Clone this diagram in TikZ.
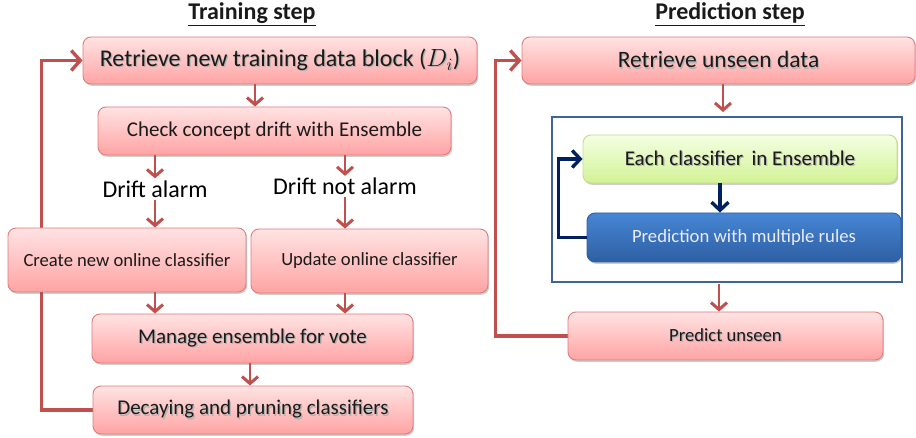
\documentclass[tikz,border=0pt]{standalone}
\usepackage{fontspec}
\setmainfont{Carlito}
\usetikzlibrary{arrows.meta,shadows,backgrounds,calc}

\definecolor{flowred}{HTML}{C0504D}
\definecolor{pinktop}{HTML}{FFE3E3}
\definecolor{pinkbot}{HTML}{FFA3A3}
\definecolor{pinkline}{HTML}{E07C7C}
\definecolor{greentop}{HTML}{F4FFE2}
\definecolor{greenbot}{HTML}{D2F296}
\definecolor{greenline}{HTML}{C2DE8C}
\definecolor{bluetop}{HTML}{4686D4}
\definecolor{bluebot}{HTML}{2E5FA3}
\definecolor{frameblue}{HTML}{3F6597}
\definecolor{loopnavy}{HTML}{002060}
\definecolor{ink}{HTML}{1A1A1A}

\newcommand{\fs}[1]{\fontsize{#1}{#1}\selectfont}
% text with a soft grey shadow behind it
\newcommand{\shadowed}[1]{\makebox[0pt][l]{\hspace{1.2pt}\raisebox{-1.2pt}{\color{black!30}#1}}#1}

\begin{document}
\begin{tikzpicture}[x=1pt,y=-1pt,
  boxbase/.style={rounded corners=8pt, inner sep=0pt, align=center, text=ink,
    drop shadow={shadow xshift=1.2pt, shadow yshift=-1.8pt, opacity=0.28, fill=black!70}},
  pinkbox/.style={boxbase, draw=pinkline, line width=0.9pt, top color=pinktop, bottom color=pinkbot},
  greenbox/.style={boxbase, draw=greenline, line width=0.9pt, top color=greentop, bottom color=greenbot},
  bluebox/.style={boxbase, draw=bluebot, line width=0.9pt, top color=bluetop, bottom color=bluebot, text=white!92!blue},
  groupframe/.style={draw=frameblue, line width=2pt, fill=white, inner sep=0pt},
  steparrow/.style={draw=flowred, line width=2.8pt, -{Straight Barb[length=7pt,width=16pt,line width=3pt]}},
  looparrow/.style={draw=flowred, line width=3.4pt, -{Straight Barb[length=9pt,width=20pt,line width=3.4pt]}},
  navyarrow/.style={draw=loopnavy, line width=3.2pt, -{Straight Barb[length=8pt,width=17pt,line width=3.4pt]}},
  title/.style={inner sep=0pt, font=\fs{24}\bfseries, text=ink},
  cond/.style={inner sep=2pt, font=\fs{24}, text=black}
]
\useasboundingbox (0,0) rectangle (916,438);

% ---------- Training step ----------
\node[title] (ttrain) at (252,14) {\underline{Training step}};

\node[pinkbox, minimum width=394pt, minimum height=47pt, font=\fs{24}] (retr) at (280,60.5)
  {\shadowed{Retrieve new training data block ($D_i$)}};
\node[pinkbox, minimum width=353pt, minimum height=48pt, font=\fs{21}] (check) at (274.5,131)
  {Check concept drift with Ensemble};

\node[cond] (alarm) at (155,189) {Drift alarm};
\node[cond] (noalarm) at (345,186.5) {Drift not alarm};

\node[pinkbox, minimum width=238pt, minimum height=64pt, font=\fs{18.6}] (create) at (127,260)
  {Create new online classifier};
\node[pinkbox, minimum width=237pt, minimum height=64pt, font=\fs{18.6}] (update) at (369.5,261)
  {Update online classifier};
\node[pinkbox, minimum width=321pt, minimum height=49pt, font=\fs{21}] (manage) at (252.5,338.5)
  {\shadowed{Manage ensemble for vote}};
\node[pinkbox, minimum width=320pt, minimum height=48pt, font=\fs{21}] (decay) at (253,410)
  {\shadowed{Decaying and pruning classifiers}};

\draw[steparrow] (retr.south -| 255,0) -- (check.north -| 255,0);
\draw[steparrow] (check.south -| alarm) -- (alarm.north);
\draw[steparrow] (check.south -| noalarm) -- (noalarm.north);
\draw[steparrow] (alarm.south) -- (create.north -| alarm);
\draw[steparrow] (noalarm.south) -- (update.north -| noalarm);
\draw[steparrow] (create.south -| alarm) -- (manage.north -| alarm);
\draw[steparrow] (update.south -| noalarm) -- (manage.north -| noalarm);
\draw[steparrow] (manage.south -| 250,0) -- (decay.north -| 250,0);

\begin{scope}[on background layer]
  \draw[looparrow] (decay.west) -- ++(-51,0) |- (retr.west);
\end{scope}

% ---------- Prediction step ----------
\node[title] (tpred) at (730,14) {\underline{Prediction step}};

\node[pinkbox, minimum width=393pt, minimum height=47pt, font=\fs{23.5}] (unseen) at (718.5,60.5)
  {\shadowed{Retrieve unseen data}};

\node[groupframe, minimum width=350pt, minimum height=165pt] (group) at (727,199.5) {};

\node[greenbox, minimum width=314pt, minimum height=48pt, font=\fs{21}] (each) at (740,159)
  {\shadowed{Each classifier\, in Ensemble}};
\node[bluebox, minimum width=314pt, minimum height=49pt, font=\fs{18.7}] (rules) at (744,237.5)
  {Prediction with multiple rules};

\node[pinkbox, minimum width=315pt, minimum height=48pt, font=\fs{18.6}] (predict) at (725.5,336)
  {\shadowed{Predict unseen}};

\draw[steparrow] (unseen.south -| 723,0) -- ($(group.north -| 723,0)+(0,-4)$);
\draw[navyarrow] (each.south -| 720,0) -- (rules.north -| 720,0);
\draw[navyarrow] (rules.west) -- ++(-28,0) |- (each.west);
\draw[steparrow] ($(group.south -| 719,0)+(0,1)$) -- (predict.north -| 719,0);

\begin{scope}[on background layer]
  \draw[looparrow] (predict.west) -- ++(-72,0) |- (unseen.west);
\end{scope}
\end{tikzpicture}
\end{document}
